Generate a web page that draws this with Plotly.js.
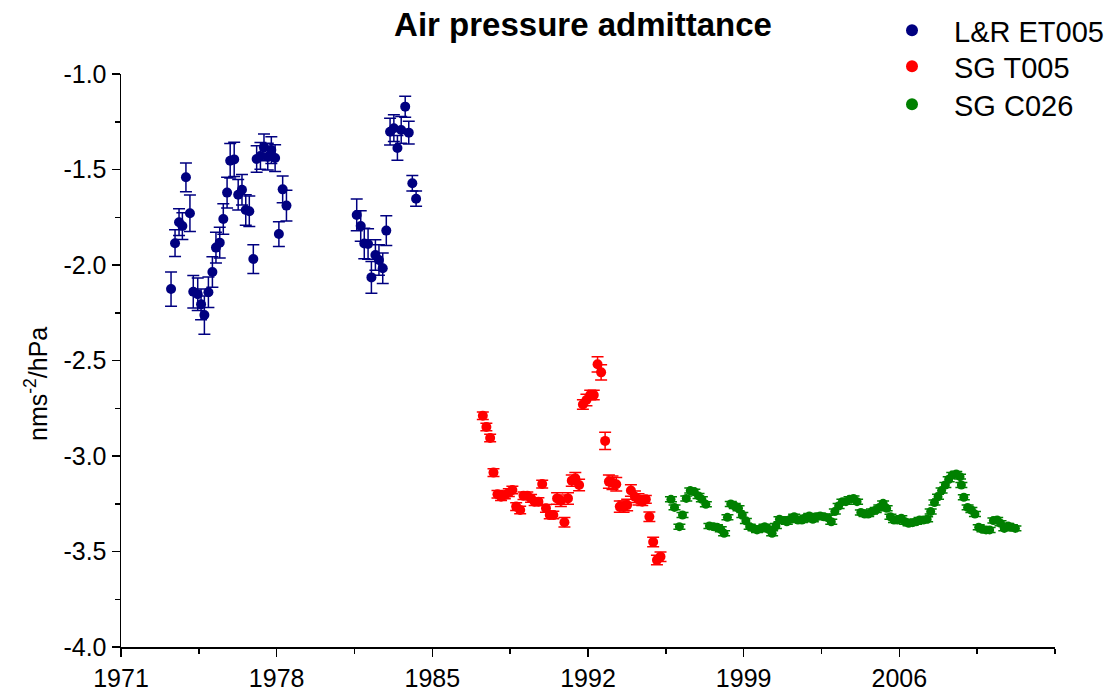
<!DOCTYPE html>
<html>
<head>
<meta charset="utf-8">
<script src="https://cdn.plot.ly/plotly-3.0.1.min.js"></script>
<style>html,body{margin:0;padding:0;background:#fff;}#chart{width:1109px;height:693px;}</style>
</head>
<body>
<div id="chart"></div>
<script>
// L&R ET005
const lrYears = [1973.25,1973.43,1973.61,1973.76,1973.92,1974.10,1974.25,1974.45,1974.60,1974.75,1974.93,1975.11,1975.27,1975.44,1975.60,1975.77,1975.91,1976.09,1976.27,1976.44,1976.61,1976.77,1976.95,1977.10,1977.27,1977.43,1977.60,1977.76,1977.93,1978.10,1978.27,1978.44,
  1981.60,1981.78,1981.94,1982.11,1982.26,1982.44,1982.60,1982.77,1982.93,1983.10,1983.27,1983.43,1983.60,1983.78,1983.94,1984.10,1984.27];
const lrValues = [-2.126,-1.886,-1.776,-1.796,-1.541,-1.729,-2.140,-2.153,-2.206,-2.262,-2.143,-2.037,-1.909,-1.883,-1.759,-1.621,-1.454,-1.447,-1.632,-1.606,-1.712,-1.719,-1.969,-1.445,-1.429,-1.384,-1.433,-1.398,-1.440,-1.838,-1.604,-1.689,
  -1.738,-1.796,-1.887,-1.890,-2.065,-1.948,-1.974,-2.017,-1.820,-1.302,-1.284,-1.387,-1.293,-1.171,-1.307,-1.572,-1.653];
const lrErrors = [0.09,0.07,0.07,0.07,0.075,0.095,0.085,0.085,0.08,0.10,0.08,0.08,0.08,0.08,0.08,0.08,0.09,0.09,0.08,0.08,0.08,0.08,0.075,0.07,0.07,0.07,0.07,0.07,0.07,0.065,0.07,0.08,
  0.083,0.08,0.08,0.08,0.083,0.08,0.08,0.08,0.078,0.07,0.07,0.065,0.07,0.055,0.06,0.04,0.04];

// SG T005
const t005Years = [1987.27,1987.43,1987.60,1987.75,1987.93,1988.09,1988.26,1988.44,1988.60,1988.77,1988.95,1989.10,1989.27,1989.44,1989.60,1989.77,1989.94,1990.11,1990.28,1990.44,1990.61,1990.78,1990.94,1991.10,1991.27,1991.43,1991.60,1991.77,1991.93,1992.10,1992.26,1992.43,1992.59,1992.77,1992.94,1993.10,1993.27,1993.43,1993.60,1993.76,1993.93,1994.11,1994.27,1994.44,1994.60,1994.76,1994.93,1995.10,1995.26];
const t005Values = [-2.789,-2.848,-2.906,-3.087,-3.200,-3.213,-3.204,-3.192,-3.178,-3.265,-3.283,-3.208,-3.208,-3.222,-3.239,-3.239,-3.147,-3.274,-3.309,-3.309,-3.222,-3.234,-3.347,-3.222,-3.129,-3.117,-3.152,-2.730,-2.707,-2.681,-2.681,-2.520,-2.562,-2.921,-3.134,-3.140,-3.148,-3.265,-3.265,-3.257,-3.181,-3.213,-3.227,-3.239,-3.227,-3.318,-3.450,-3.545,-3.527];
const t005Errors = [0.02,0.02,0.02,0.02,0.02,0.02,0.02,0.02,0.02,0.02,0.02,0.02,0.02,0.02,0.02,0.02,0.02,0.02,0.02,0.02,0.03,0.03,0.025,0.03,0.03,0.03,0.03,0.025,0.03,0.025,0.025,0.04,0.04,0.045,0.035,0.035,0.035,0.03,0.03,0.03,0.03,0.03,0.03,0.02,0.02,0.025,0.025,0.025,0.025];

// SG C026
const c026Years = [1995.73,1995.89,1996.11,1996.25,1996.42,1996.60,1996.78,1996.97,1997.12,1997.30,1997.46,1997.64,1997.80,1997.97,1998.12,1998.27,1998.42,1998.60,1998.77,1998.94,1999.10,1999.27,1999.45,1999.60,1999.77,1999.94,2000.12,2000.28,2000.45,2000.61,2000.78,2000.94,2001.10,2001.27,2001.44,2001.62,2001.78,2001.95,2002.11,2002.28,2002.44,2002.61,2002.77,2002.94,2003.10,2003.27,2003.44,2003.60,2003.76,2003.94,2004.10,2004.27,2004.44,2004.60,2004.77,2004.94,2005.10,2005.27,2005.43,2005.60,2005.76,2005.92,2006.09,2006.26,2006.42,2006.59,2006.75,2006.91,2007.08,2007.25,2007.41,2007.58,2007.74,2007.90,2008.07,2008.22,2008.38,2008.56,2008.73,2008.79,2008.90,2009.07,2009.24,2009.40,2009.57,2009.74,2009.90,2010.06,2010.23,2010.40,2010.55,2010.72,2010.89,2011.06,2011.22];
const c026Values = [-3.227,-3.269,-3.370,-3.309,-3.222,-3.181,-3.187,-3.209,-3.227,-3.253,-3.366,-3.370,-3.373,-3.384,-3.405,-3.321,-3.251,-3.262,-3.274,-3.309,-3.340,-3.370,-3.379,-3.387,-3.379,-3.370,-3.384,-3.405,-3.366,-3.331,-3.338,-3.344,-3.331,-3.318,-3.335,-3.335,-3.323,-3.314,-3.331,-3.318,-3.314,-3.318,-3.323,-3.344,-3.291,-3.262,-3.239,-3.239,-3.227,-3.222,-3.239,-3.296,-3.304,-3.304,-3.291,-3.283,-3.269,-3.248,-3.274,-3.318,-3.335,-3.335,-3.326,-3.344,-3.352,-3.349,-3.344,-3.335,-3.335,-3.331,-3.291,-3.244,-3.213,-3.181,-3.152,-3.122,-3.100,-3.094,-3.108,-3.152,-3.216,-3.269,-3.283,-3.304,-3.373,-3.384,-3.387,-3.387,-3.338,-3.335,-3.352,-3.379,-3.366,-3.373,-3.379];
const c026Error = 0.013;

const xTickVals = [1971,1978,1985,1992,1999,2006];
const yTickVals = [-1.0,-1.5,-2.0,-2.5,-3.0,-3.5,-4.0];

function series(name, xs, ys, errs, color, size, legendId){
  return {
    type:'scatter', mode:'markers', name:name, x:xs, y:ys, legend:legendId,
    marker:{color:color, size:size, line:{width:0}},
    error_y:{type:'data', array:errs, visible:true, color:color, thickness:1.5, width:6},
    cliponaxis:false
  };
}

const traces = [
  series('L&R ET005', lrYears, lrValues, lrErrors, '#000080', 10, 'legend'),
  series('SG T005', t005Years, t005Values, t005Errors, '#ff0000', 10, 'legend2'),
  series('SG C026', c026Years, c026Values, c026Years.map(()=>c026Error), '#008000', 9, 'legend3')
];

const font = 'Liberation Sans, Arial, sans-serif';
function legendAt(rowY){
  return {x:870/1109, xanchor:'left', xref:'container', y:1-(rowY-28)/693, yanchor:'top', yref:'container',
    font:{size:29, family:font}, bgcolor:'rgba(0,0,0,0)', itemsizing:'constant', itemwidth:74, tracegroupgap:0};
}
const layout = {
  width:1109, height:693,
  margin:{l:121, r:54, t:74, b:46, autoexpand:false},
  paper_bgcolor:'#fff', plot_bgcolor:'#fff',
  font:{family:font, color:'#000'},
  title:{text:'<b>Air pressure admittance</b>', font:{size:33, family:font, color:'#000'}, x:583/1109, xanchor:'center', y:1-24/693, yanchor:'middle', yref:'container'},
  showlegend:true,
  legend:legendAt(33),
  legend2:legendAt(69),
  legend3:legendAt(107),
  annotations:[{
    text:'nms<sup>-2</sup>/hPa', textangle:-90, showarrow:false,
    xref:'paper', yref:'paper', x:-(121-36)/934, y:(647-384)/573, xanchor:'center', yanchor:'middle',
    font:{size:25, family:font, color:'#000'}
  }],
  xaxis:{
    range:[1971,2013], tickvals:xTickVals, ticktext:xTickVals.map(String),
    showgrid:false, zeroline:false, showline:true, linecolor:'#000', linewidth:1.5,
    ticks:'outside', ticklen:8, tickwidth:1.5, tickcolor:'#000',
    tickfont:{size:25, family:font},
    minor:{dtick:3.5, tick0:1971, ticks:'outside', ticklen:5, tickwidth:1.5, tickcolor:'#000', showgrid:false}
  },
  yaxis:{
    range:[-4,-1], tickvals:yTickVals, ticktext:yTickVals.map(v=>v.toFixed(1)),
    showgrid:false, zeroline:false, showline:true, linecolor:'#000', linewidth:1.5,
    ticks:'outside', ticklen:8, tickwidth:1.5, tickcolor:'#000',
    tickfont:{size:25, family:font},
    minor:{dtick:0.25, tick0:-4, ticks:'outside', ticklen:5, tickwidth:1.5, tickcolor:'#000', showgrid:false}
  }
};

Plotly.newPlot('chart', traces, layout, {displayModeBar:false, staticPlot:true});
</script>
</body>
</html>
